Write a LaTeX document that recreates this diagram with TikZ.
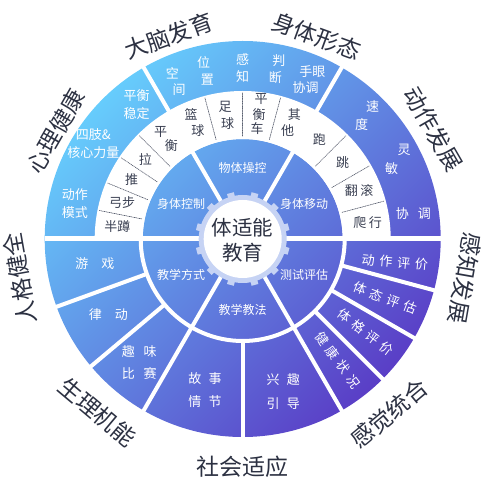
\documentclass[tikz,border=0pt]{standalone}
\usepackage{fontspec}
\setmainfont{Noto Sans CJK SC}

\definecolor{skytop}{HTML}{66CCFC}
\definecolor{violetbot}{HTML}{5A3EC6}
\definecolor{hubhalo}{HTML}{C6D3F4}
\definecolor{inkdark}{HTML}{2C3142}
\definecolor{inksub}{HTML}{3A4052}
\definecolor{dotgray}{HTML}{5A6070}

\tikzset{
  aimlbl/.style={font=\fontsize{23}{27}\selectfont,text=inkdark,inner sep=0pt},
  partlbl/.style={font=\fontsize{12}{14}\selectfont,text=white,inner sep=0pt},
  bandlbl/.style={font=\fontsize{13}{18}\selectfont,text=white,inner sep=0pt,align=center},
  sportlbl/.style={font=\fontsize{13}{15}\selectfont,text=inksub,inner sep=0pt},
  whitecut/.style={white,line width=4pt},
  dotcut/.style={draw=dotgray,densely dotted,line width=0.7pt},
}

% two texts stacked along a radius
\newcommand{\radpair}[6]{%
  \node[#1] (#2a) at ({#3}:{#4+8.75}) {#5};
  \node[#1] (#2b) at ({#3}:{#4-8.75}) {#6};}
\newcommand{\lsp}{\hspace{.37em}}

\begin{document}
\begin{tikzpicture}[x=1pt,y=1pt,line cap=round,line join=round]
  \useasboundingbox (-242.7,-247) rectangle (242.3,239);

  % The shaded disc under all coloured bands.
  \shade[top color=skytop,bottom color=violetbot,shading angle=45] (0,0) circle (198);

  % White band of the upper half, and the thin white ring of the lower half.
  \fill[white] (0:148) arc[start angle=0,end angle=180,radius=148]
   -- (180:100) arc[start angle=180,end angle=0,radius=100] -- cycle;
  \draw[white,line width=4pt,line cap=butt] (0,0) circle (102);

  % Cuts between the six inner parts, running on through the outer band.
  \draw[white,line width=5pt,line cap=butt] (180:198) -- (0:198);
  \foreach \a in {60,120,240,300}
   \draw[whitecut] (\a:40) -- (\a:199);

  % Cuts of the lower outer band.
  \foreach \a in {-15,-30,-45,-90,-140,-160}
   \draw[whitecut] (\a:103) -- (\a:199);

  % Dotted separators in the white band.
  \foreach \a in {168.75,157.5,146.25,135,105,90,75,45,30,15}
   \draw[dotcut] (\a:103) -- (\a:146);

  % Gear-like halo and the white hub.
  \fill[hubhalo] (0,0) circle (44);
  \foreach \a in {15,45,...,345}
   \fill[hubhalo,rotate=\a] (40,-3.5) rectangle (47.5,3.5);
  \fill[white] (0,0) circle (39);
  \node[align=center,font=\fontsize{20.5}{25}\selectfont,text=inkdark,inner sep=0pt]
   (hub) at (0,-1.5) {体适能\\教育};

  % Inner ring.
  \foreach \a/\t [count=\i] in {90/物体操控,30/身体移动,-30/测试评估,
    -90/教学教法,-150/教学方式,150/身体控制}
   \node[partlbl] (part\i) at (\a:71) {\t};

  % Sports and skills in the white band.
  \foreach \a/\t [count=\i] in {174.4/半蹲,163.1/弓步,151.9/推,140.6/拉,
    52.5/跑,37.5/跳,22.5/翻\hspace{.2em}滚,7.5/爬\hspace{.2em}行}
   \node[sportlbl] (sport\i) at (\a:126) {\t};
  \radpair{sportlbl}{balance}{127.5}{126}{平}{衡}
  \radpair{sportlbl}{basket}{112.5}{126}{篮}{球}
  \radpair{sportlbl}{soccer}{97.5}{125}{足}{球}
  \node[sportlbl] (bike) at (82.5:126) {衡};
  \node[sportlbl] (bikea) at (82.5:141) {平};
  \node[sportlbl] (bikeb) at (82.5:111) {车};
  \radpair{sportlbl}{other}{67.5}{126}{其}{他}

  % Upper outer band.
  \radpair{bandlbl}{space}{113}{171.5}{空}{间}
  \radpair{bandlbl}{place}{102.5}{172}{位}{置}
  \radpair{bandlbl}{sense}{90}{171}{感}{知}
  \radpair{bandlbl}{judge}{78.5}{173}{判}{断}
  \radpair{bandlbl}{eyehand}{67.5}{173}{手眼}{协调}
  \node[bandlbl] (steady) at (-106,134) {平衡\\稳定};
  \node[bandlbl] (limbs) at (-149.4,95) {四肢\&\\核心力量};
  \node[bandlbl] (pattern) at (-167.7,35) {动作\\模式};
  \node[bandlbl] (speeda) at (130,132.3) {速};
  \node[bandlbl] (speedb) at (119,114) {度};
  \node[bandlbl] (agilea) at (161.3,89) {灵};
  \node[bandlbl] (agileb) at (149,70.7) {敏};
  \node[bandlbl] (coord) at (170.6,25.7) {协\hspace{.7em}调};

  % Lower outer band.
  \node[bandlbl] (game) at (-147.7,-24.3) {游\hspace{1em}戏};
  \node[bandlbl] (rhythm) at (-134.4,-76) {律\hspace{1em}动};
  \node[bandlbl,font=\fontsize{13}{21.7}\selectfont] (contest) at (-103.5,-123.5)
   {趣\hspace{.67em}味\\比\hspace{.67em}赛};
  \node[bandlbl,font=\fontsize{13}{23.3}\selectfont] (story) at (-37.7,-151)
   {故\hspace{.55em}事\\情\hspace{.55em}节};
  \node[bandlbl,font=\fontsize{13}{23.3}\selectfont] (interest) at (40.6,-152.7)
   {兴\hspace{.55em}趣\\引\hspace{.55em}导};
  \foreach \a/\turn/\t [count=\i] in {-8.7/-5/动\lsp 作\lsp 评\lsp 价,
    -22.5/-21/体\lsp 态\lsp 评\lsp 估,-37.2/-37.5/体\lsp 格\lsp 评\lsp 价,
    -51.8/-53.5/健\lsp 康\lsp 状\lsp 况}
   \node[bandlbl,rotate=\turn] (test\i) at (\a:154) {\t};

  % Aims round the outside.
  \foreach \a/\r/\turn/\t [count=\i] in {110/216/20/大脑发育,70/216/-20/身体形态,
    30/220/-60/动作发展,-10/226/-100/感知发展,-50/228/40/感觉统合,
    -90/228/0/社会适应,-130/226/-40/生理机能,-170/226/100/人格健全,
    150/216/60/心理健康}
   \node[aimlbl,rotate=\turn] (aim\i) at (\a:\r) {\t};
\end{tikzpicture}
\end{document}
